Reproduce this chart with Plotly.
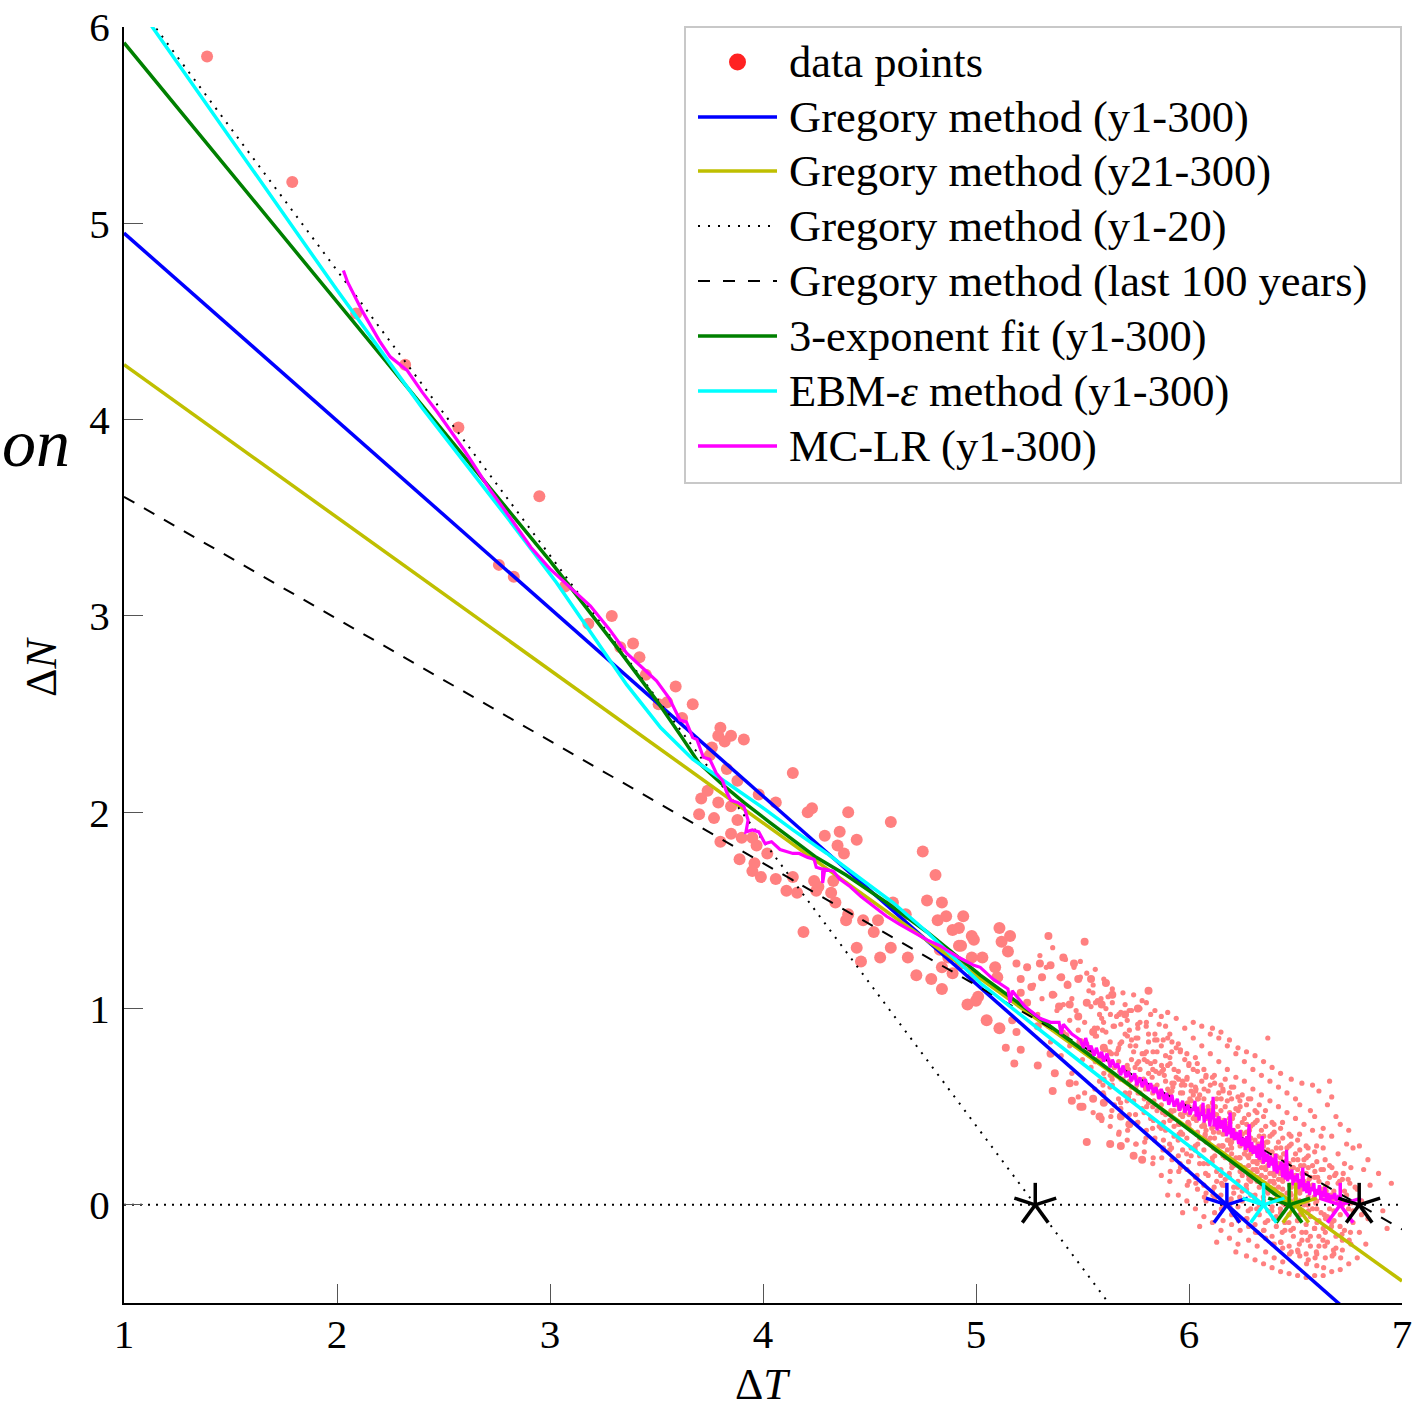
import math
import plotly.graph_objects as go

# ---------------------------------------------------------------- data ----
# Axis extents
T_RANGE = [1, 7]
N_RANGE = [-0.5, 6]
T_TICKS = [1, 2, 3, 4, 5, 6, 7]
N_TICKS = [0, 1, 2, 3, 4, 5, 6]

# Gregory regressions:  dN = F - lam * dT
greg_names = ["Gregory method (y1-300)", "Gregory method (y21-300)",
              "Gregory method (y1-20)", "Gregory method (last 100 years)"]
greg_F = [5.906, 5.058, 7.664, 4.229]
greg_lam = [0.956, 0.778, 1.452, 0.622]

# 3-exponent fit (y1-300)
fit3_T = [1.00, 1.50, 2.00, 2.50, 3.00, 3.30, 3.50, 3.62, 3.70, 3.80, 3.91, 4.03,
          4.14, 4.25, 4.39, 4.58, 4.77, 5.02, 5.50, 6.00, 6.47]
fit3_N = [5.92, 5.26, 4.60, 3.94, 3.28, 2.86, 2.57, 2.38, 2.25, 2.15, 2.05, 1.95,
          1.86, 1.77, 1.68, 1.54, 1.39, 1.17, 0.79, 0.38, 0.00]
ecs_fit3 = 6.47

# EBM-epsilon method (y1-300)
ebm_T = [1.12, 1.50, 2.00, 2.40, 2.80, 3.03, 3.20, 3.36, 3.52, 3.67, 3.83, 3.99,
         4.14, 4.30, 4.46, 4.61, 4.77, 5.02, 5.50, 6.00, 6.35]
ebm_N = [6.02, 5.43, 4.66, 4.06, 3.50, 3.17, 2.90, 2.65, 2.43, 2.27, 2.15, 2.03,
         1.91, 1.79, 1.66, 1.54, 1.39, 1.13, 0.72, 0.30, 0.00]
ecs_ebm = 6.35

# MC-LR (y1-300)
mclr_pts = [
    (2.03, 4.76), (2.05, 4.70), (2.12, 4.55), (2.20, 4.40), (2.25, 4.32), (2.33, 4.25),
    (2.40, 4.14), (2.47, 4.04), (2.60, 3.84), (2.72, 3.64), (2.82, 3.49), (2.91, 3.35),
    (3.00, 3.24), (3.06, 3.18), (3.13, 3.11), (3.19, 3.05), (3.28, 2.93), (3.36, 2.81),
    (3.43, 2.74), (3.50, 2.67), (3.56, 2.58), (3.61, 2.47), (3.64, 2.46), (3.67, 2.38),
    (3.69, 2.37), (3.72, 2.28), (3.75, 2.27), (3.78, 2.20), (3.81, 2.16), (3.83, 2.10),
    (3.85, 2.06), (3.88, 2.05), (3.91, 2.03), (3.93, 1.96), (3.92, 1.90), (3.95, 1.91),
    (3.98, 1.90), (4.01, 1.84), (4.04, 1.85), (4.06, 1.83), (4.08, 1.81), (4.11, 1.80),
    (4.14, 1.79), (4.17, 1.79), (4.21, 1.77), (4.24, 1.76), (4.25, 1.72), (4.28, 1.71),
    (4.28, 1.64), (4.29, 1.71), (4.33, 1.70), (4.36, 1.66), (4.41, 1.62), (4.46, 1.57),
    (4.52, 1.52), (4.58, 1.47), (4.64, 1.43), (4.69, 1.40), (4.77, 1.35), (4.83, 1.32),
    (4.86, 1.30), (4.92, 1.26), (4.99, 1.22), (5.02, 1.21), (5.08, 1.15), (5.12, 1.12),
    (5.15, 1.10), (5.16, 1.03), (5.17, 1.09), (5.23, 1.01), (5.30, 0.95), (5.35, 0.93),
    (5.39, 0.93), (5.40, 0.87), (5.41, 0.92), (5.45, 0.87), (5.49, 0.84), (5.505, 0.80),
    (5.515, 0.85), (5.53, 0.79), (5.54, 0.81), (5.555, 0.76), (5.565, 0.80), (5.58, 0.75),
    (5.59, 0.78), (5.60, 0.73), (5.615, 0.77), (5.63, 0.70), (5.64, 0.74), (5.655, 0.70),
    (5.665, 0.72), (5.68, 0.66), (5.69, 0.71), (5.705, 0.65), (5.715, 0.68), (5.73, 0.63),
    (5.745, 0.67), (5.755, 0.61), (5.77, 0.65), (5.78, 0.60), (5.795, 0.64), (5.81, 0.58),
    (5.82, 0.62), (5.835, 0.57), (5.845, 0.60), (5.86, 0.54), (5.87, 0.59), (5.885, 0.53),
    (5.895, 0.57), (5.905, 0.51), (5.92, 0.56), (5.93, 0.50), (5.945, 0.54), (5.955, 0.48),
    (5.97, 0.53), (5.98, 0.47), (5.995, 0.51), (6.005, 0.46), (6.015, 0.49), (6.020, 0.48),
    (6.028, 0.53), (6.034, 0.45), (6.041, 0.50), (6.047, 0.43), (6.052, 0.47), (6.060, 0.46),
    (6.066, 0.52), (6.071, 0.42), (6.080, 0.46), (6.086, 0.44), (6.091, 0.49), (6.098, 0.40),
    (6.104, 0.47), (6.110, 0.44), (6.113, 0.55), (6.118, 0.40), (6.126, 0.44), (6.132, 0.38),
    (6.139, 0.45), (6.146, 0.41), (6.150, 0.39), (6.158, 0.43), (6.163, 0.37), (6.170, 0.44),
    (6.176, 0.35), (6.183, 0.40), (6.188, 0.36), (6.193, 0.47), (6.199, 0.34), (6.207, 0.39),
    (6.214, 0.33), (6.221, 0.37), (6.226, 0.36), (6.233, 0.31), (6.240, 0.38), (6.246, 0.30),
    (6.252, 0.34), (6.258, 0.33), (6.265, 0.28), (6.271, 0.35), (6.276, 0.29), (6.282, 0.41),
    (6.288, 0.27), (6.295, 0.32), (6.301, 0.26), (6.308, 0.30), (6.313, 0.29), (6.320, 0.24),
    (6.326, 0.31), (6.331, 0.23), (6.338, 0.28), (6.344, 0.35), (6.349, 0.21), (6.356, 0.27),
    (6.362, 0.22), (6.368, 0.26), (6.375, 0.19), (6.381, 0.25), (6.388, 0.20), (6.394, 0.24),
    (6.400, 0.17), (6.407, 0.26), (6.413, 0.16), (6.420, 0.20), (6.426, 0.18), (6.433, 0.22),
    (6.439, 0.14), (6.445, 0.21), (6.452, 0.13), (6.458, 0.28), (6.463, 0.12), (6.470, 0.17),
    (6.476, 0.13), (6.483, 0.18), (6.489, 0.10), (6.496, 0.15), (6.502, 0.12), (6.509, 0.16),
    (6.515, 0.08), (6.521, 0.13), (6.528, 0.09), (6.534, 0.19), (6.540, 0.07), (6.547, 0.11),
    (6.553, 0.06), (6.560, 0.12), (6.566, 0.05), (6.573, 0.09), (6.580, 0.07), (6.586, 0.11),
    (6.592, 0.04), (6.599, 0.08), (6.605, 0.05), (6.612, 0.10), (6.618, 0.03), (6.625, 0.07),
    (6.631, 0.04), (6.638, 0.09), (6.645, 0.03), (6.652, 0.06), (6.660, 0.02), (6.668, 0.05),
    (6.676, 0.03), (6.684, 0.06), (6.692, 0.02), (6.700, 0.04), (6.710, 0.03),
]
mclr_T = [p[0] for p in mclr_pts]
mclr_N = [p[1] for p in mclr_pts]
ecs_mclr = 6.71

# Annual (dT, dN) points, early years (large markers)
early_T = [1.39, 1.79, 2.09, 2.32, 2.57, 2.95, 2.76, 2.83, 3.07, 3.18, 3.29, 3.39,
           3.33, 3.42, 3.45, 3.59, 3.67, 3.51, 3.55, 3.62, 3.80, 3.85, 3.79, 3.91,
           3.82, 3.76, 3.75, 3.83, 4.14, 3.88, 3.74, 3.71, 3.79, 3.85, 3.70, 3.77,
           3.88, 3.98, 4.06, 4.21, 4.23, 4.40, 4.60, 4.29, 4.36, 4.44, 4.35, 4.38,
           4.75, 3.85, 3.90, 3.80, 3.95, 3.97, 4.02, 3.89, 3.96, 3.95, 3.99, 4.06,
           4.14, 4.24, 4.26, 4.33, 4.81, 4.11, 4.16, 4.25, 4.32, 4.34, 4.40, 4.47,
           4.54, 4.61, 4.67, 4.77, 4.84, 4.19, 4.39, 4.52, 4.60, 4.55, 4.44, 4.46,
           4.68, 4.72, 4.79, 4.84, 4.82, 4.86, 4.94, 4.89, 4.92, 4.98, 4.83, 4.87,
           4.93, 4.99, 4.89, 5.01, 4.92, 5.11, 5.16, 4.99, 5.12, 5.15, 4.93, 4.84,
           4.98, 5.03, 5.09, 5.10, 4.96, 5.00, 5.05, 5.11]
early_N = [5.85, 5.21, 4.54, 4.28, 3.96, 3.61, 3.26, 3.20, 3.15, 2.96, 3.00, 2.86,
           2.84, 2.79, 2.70, 2.64, 2.55, 2.55, 2.56, 2.48, 2.43, 2.39, 2.39, 2.37,
           2.36, 2.33, 2.29, 2.22, 2.20, 2.16, 2.11, 2.07, 2.05, 2.03, 1.99, 1.97,
           1.96, 2.09, 2.05, 2.00, 2.02, 2.00, 1.95, 1.88, 1.90, 1.86, 1.83, 1.79,
           1.80, 1.89, 1.87, 1.85, 1.87, 1.83, 1.79, 1.76, 1.74, 1.70, 1.67, 1.66,
           1.67, 1.65, 1.62, 1.65, 1.68, 1.60, 1.59, 1.60, 1.59, 1.54, 1.48, 1.45,
           1.45, 1.54, 1.48, 1.55, 1.54, 1.39, 1.45, 1.39, 1.31, 1.26, 1.31, 1.24,
           1.26, 1.17, 1.15, 1.10, 1.45, 1.47, 1.47, 1.40, 1.32, 1.37, 1.30, 1.26,
           1.23, 1.17, 1.18, 1.06, 1.41, 1.41, 1.37, 1.35, 1.34, 1.29, 1.32, 1.21,
           1.26, 1.26, 1.21, 1.16, 1.02, 1.04, 0.94, 0.90]

# Annual points, middle years (medium markers)
mid_T = [5.19, 5.24, 5.30, 5.35, 5.41, 5.46, 5.34, 5.21, 5.26, 5.31, 5.40, 5.43,
         5.48, 5.54, 5.61, 5.21, 5.24, 5.36, 5.39, 5.44, 5.48, 5.52, 5.59, 5.64,
         5.70, 5.76, 5.81, 5.17, 5.19, 5.29, 5.14, 5.21, 5.18, 5.29, 5.35, 5.37,
         5.44, 5.36, 5.45, 5.49, 5.55, 5.60, 5.58, 5.49, 5.42, 5.50, 5.55, 5.60,
         5.58, 5.68, 5.72, 5.63, 5.52, 5.68, 5.74, 5.78, 5.51]
mid_N = [1.23, 1.21, 1.23, 1.22, 1.26, 1.23, 1.37, 1.15, 1.11, 1.16, 1.16, 1.12,
         1.15, 1.15, 1.13, 1.08, 1.03, 1.07, 1.01, 1.02, 0.96, 1.03, 1.02, 1.07,
         0.97, 1.00, 1.09, 0.94, 0.88, 0.91, 0.80, 0.79, 0.72, 0.71, 0.77, 0.67,
         0.62, 0.58, 0.53, 0.50, 0.88, 0.80, 0.74, 0.83, 0.86, 0.50, 0.54, 0.52,
         0.45, 0.45, 0.41, 0.31, 0.32, 0.30, 0.25, 0.23, 1.34]

# Annual points, late years (small markers) - outer spread
late_pts = [
    (5.27, 1.12), (5.29, 0.97), (5.30, 1.27), (5.31, 1.05), (5.33, 1.21), (5.34, 0.91),
    (5.36, 1.31), (5.37, 1.07), (5.35, 0.83), (5.38, 0.99), (5.39, 1.16), (5.41, 0.88),
    (5.42, 1.25), (5.40, 0.76), (5.41, 1.02), (5.43, 1.13), (5.44, 0.94), (5.45, 0.67),
    (5.46, 1.21), (5.44, 0.81), (5.45, 1.05), (5.47, 0.62), (5.48, 0.89), (5.49, 1.16),
    (5.47, 0.99), (5.50, 0.74), (5.49, 1.24), (5.48, 0.55), (5.51, 0.57), (5.52, 0.82),
    (5.53, 1.09), (5.51, 0.93), (5.54, 0.70), (5.52, 1.18), (5.53, 0.78), (5.54, 1.01),
    (5.55, 0.47), (5.56, 0.73), (5.57, 0.90), (5.55, 1.12), (5.58, 0.63), (5.56, 0.86),
    (5.57, 1.04), (5.58, 0.97), (5.56, 1.20), (5.59, 0.43), (5.60, 0.67), (5.61, 0.79),
    (5.59, 0.95), (5.62, 1.06), (5.60, 0.56), (5.61, 1.00), (5.62, 0.74), (5.60, 1.15),
    (5.61, 0.88), (5.63, 0.40), (5.64, 0.61), (5.65, 0.70), (5.63, 0.83), (5.66, 0.96),
    (5.64, 1.10), (5.65, 0.51), (5.66, 0.77), (5.63, 0.66), (5.65, 0.91), (5.64, 1.03),
    (5.67, 0.36), (5.68, 0.49), (5.69, 0.64), (5.67, 0.73), (5.70, 0.87), (5.68, 0.98),
    (5.69, 1.08), (5.70, 0.57), (5.67, 0.80), (5.69, 0.69), (5.68, 0.92), (5.70, 1.02),
    (5.71, 0.33), (5.72, 0.46), (5.73, 0.60), (5.71, 0.71), (5.74, 0.78), (5.72, 0.89),
    (5.73, 0.99), (5.74, 0.53), (5.71, 0.94), (5.73, 0.74), (5.72, 0.63), (5.74, 1.07),
    (5.73, 0.84), (5.75, 0.31), (5.76, 0.42), (5.77, 0.57), (5.75, 0.65), (5.78, 0.77),
    (5.76, 0.85), (5.77, 0.93), (5.78, 1.04), (5.75, 0.59), (5.77, 0.69), (5.76, 0.90),
    (5.78, 0.49), (5.75, 0.81), (5.77, 1.00), (5.79, 0.27), (5.80, 0.38), (5.81, 0.52),
    (5.79, 0.61), (5.82, 0.72), (5.80, 0.78), (5.81, 0.87), (5.82, 0.97), (5.79, 0.54),
    (5.81, 0.67), (5.80, 0.93), (5.82, 0.44), (5.79, 0.74), (5.81, 0.83), (5.80, 1.03),
    (5.83, 0.21), (5.84, 0.34), (5.85, 0.48), (5.83, 0.57), (5.86, 0.67), (5.84, 0.73),
    (5.85, 0.84), (5.86, 0.92), (5.83, 0.50), (5.85, 0.61), (5.84, 0.87), (5.86, 0.40),
    (5.83, 0.69), (5.85, 0.78), (5.84, 0.99), (5.86, 0.55), (5.87, 0.15), (5.88, 0.29),
    (5.89, 0.38), (5.87, 0.51), (5.90, 0.59), (5.88, 0.69), (5.89, 0.76), (5.90, 0.85),
    (5.87, 0.96), (5.89, 0.46), (5.88, 0.56), (5.90, 0.71), (5.87, 0.81), (5.89, 0.63),
    (5.88, 0.33), (5.90, 0.98), (5.89, 0.91), (5.90, 0.05), (5.91, 0.12), (5.92, 0.23),
    (5.93, 0.35), (5.91, 0.43), (5.94, 0.52), (5.92, 0.62), (5.93, 0.69), (5.94, 0.80),
    (5.91, 0.87), (5.93, 0.48), (5.92, 0.58), (5.94, 0.65), (5.91, 0.75), (5.93, 0.40),
    (5.92, 0.83), (5.94, 0.95), (5.91, 0.28), (5.93, 0.62), (5.95, 0.05), (5.96, 0.19),
    (5.97, 0.28), (5.95, 0.41), (5.98, 0.47), (5.96, 0.57), (5.97, 0.63), (5.98, 0.74),
    (5.95, 0.82), (5.97, 0.45), (5.96, 0.51), (5.98, 0.61), (5.95, 0.68), (5.97, 0.36),
    (5.96, 0.79), (5.98, 0.90), (5.95, 0.25), (5.97, 0.57), (5.96, 0.46), (5.97, -0.04),
    (5.99, 0.02), (6.00, 0.12), (6.01, 0.25), (5.99, 0.34), (6.02, 0.44), (6.00, 0.50),
    (6.01, 0.58), (6.02, 0.69), (5.99, 0.77), (6.01, 0.38), (6.00, 0.46), (6.02, 0.56),
    (5.99, 0.64), (6.01, 0.29), (6.00, 0.72), (6.02, 0.85), (5.99, 0.18), (6.01, 0.53),
    (6.00, 0.41), (6.02, 0.93), (6.01, 0.61), (6.03, -0.02), (6.04, 0.08), (6.05, 0.21),
    (6.03, 0.30), (6.06, 0.40), (6.04, 0.46), (6.05, 0.56), (6.06, 0.63), (6.03, 0.75),
    (6.05, 0.34), (6.04, 0.44), (6.06, 0.50), (6.03, 0.60), (6.05, 0.25), (6.04, 0.68),
    (6.06, 0.81), (6.03, 0.14), (6.05, 0.48), (6.04, 0.37), (6.06, 0.91), (6.05, -0.11),
    (6.04, 0.54), (6.07, -0.06), (6.08, 0.06), (6.09, 0.15), (6.07, 0.28), (6.10, 0.34),
    (6.08, 0.44), (6.09, 0.50), (6.10, 0.61), (6.07, 0.69), (6.09, 0.32), (6.08, 0.38),
    (6.10, 0.48), (6.07, 0.54), (6.09, 0.21), (6.08, 0.66), (6.10, 0.77), (6.07, 0.10),
    (6.09, 0.46), (6.08, 0.33), (6.10, 0.87), (6.09, 0.58), (6.08, 0.02), (6.07, 0.41),
    (6.11, -0.09), (6.12, 0.03), (6.13, 0.12), (6.11, 0.24), (6.14, 0.30), (6.12, 0.40),
    (6.13, 0.46), (6.14, 0.57), (6.11, 0.65), (6.13, 0.28), (6.12, 0.34), (6.14, 0.44),
    (6.11, 0.52), (6.13, 0.17), (6.12, 0.62), (6.14, 0.73), (6.11, 0.07), (6.13, 0.42),
    (6.12, 0.29), (6.14, 0.85), (6.13, 0.54), (6.12, -0.04), (6.11, 0.90), (6.13, -0.19),
    (6.14, 0.37), (6.15, -0.13), (6.16, -0.01), (6.17, 0.10), (6.15, 0.18), (6.18, 0.28),
    (6.16, 0.36), (6.17, 0.42), (6.18, 0.53), (6.15, 0.61), (6.17, 0.24), (6.16, 0.30),
    (6.18, 0.40), (6.15, 0.48), (6.17, 0.13), (6.16, 0.58), (6.18, 0.69), (6.15, 0.05),
    (6.17, 0.38), (6.16, 0.25), (6.18, 0.81), (6.17, 0.50), (6.16, -0.08), (6.15, 0.88),
    (6.17, 0.64), (6.18, 0.33), (6.19, -0.17), (6.20, -0.05), (6.21, 0.06), (6.19, 0.14),
    (6.22, 0.24), (6.20, 0.32), (6.21, 0.38), (6.22, 0.49), (6.19, 0.57), (6.21, 0.20),
    (6.20, 0.26), (6.22, 0.36), (6.19, 0.44), (6.21, 0.09), (6.20, 0.54), (6.22, 0.65),
    (6.19, 0.01), (6.21, 0.34), (6.20, 0.21), (6.22, 0.77), (6.21, 0.46), (6.20, -0.10),
    (6.19, 0.84), (6.21, 0.60), (6.22, -0.24), (6.20, 0.29), (6.23, -0.20), (6.24, -0.07),
    (6.25, 0.02), (6.23, 0.12), (6.26, 0.19), (6.24, 0.30), (6.25, 0.36), (6.26, 0.44),
    (6.23, 0.55), (6.25, 0.15), (6.24, 0.24), (6.26, 0.31), (6.23, 0.40), (6.25, 0.07),
    (6.24, 0.50), (6.26, 0.63), (6.23, -0.01), (6.25, 0.33), (6.24, 0.17), (6.26, 0.73),
    (6.25, 0.42), (6.24, -0.13), (6.23, 0.80), (6.25, 0.56), (6.26, 0.26), (6.27, -0.26),
    (6.28, -0.11), (6.29, -0.02), (6.27, 0.08), (6.30, 0.18), (6.28, 0.24), (6.29, 0.34),
    (6.30, 0.41), (6.27, 0.51), (6.29, 0.12), (6.28, 0.20), (6.30, 0.28), (6.27, 0.37),
    (6.29, 0.05), (6.28, 0.46), (6.30, 0.59), (6.27, -0.07), (6.29, 0.26), (6.28, 0.15),
    (6.30, 0.69), (6.29, 0.40), (6.28, -0.18), (6.27, 0.78), (6.29, 0.54), (6.30, 0.22),
    (6.31, -0.28), (6.32, -0.14), (6.33, -0.05), (6.31, 0.05), (6.34, 0.15), (6.32, 0.21),
    (6.33, 0.31), (6.34, 0.38), (6.31, 0.48), (6.33, 0.09), (6.32, 0.17), (6.34, 0.27),
    (6.31, 0.33), (6.33, 0.00), (6.32, 0.43), (6.34, 0.56), (6.31, -0.10), (6.33, 0.23),
    (6.32, 0.12), (6.34, 0.66), (6.33, 0.35), (6.32, -0.21), (6.31, 0.76), (6.33, 0.51),
    (6.34, 0.19), (6.35, -0.30), (6.36, -0.17), (6.37, -0.08), (6.35, 0.02), (6.38, 0.12),
    (6.36, 0.18), (6.37, 0.28), (6.38, 0.35), (6.35, 0.45), (6.37, 0.06), (6.36, 0.14),
    (6.38, 0.24), (6.35, 0.30), (6.37, -0.03), (6.36, 0.40), (6.38, 0.53), (6.35, -0.13),
    (6.37, 0.20), (6.36, 0.09), (6.38, 0.63), (6.37, 0.32), (6.36, -0.24), (6.37, 0.85),
    (6.35, 0.73), (6.38, 0.16), (6.39, -0.32), (6.40, -0.20), (6.41, -0.11), (6.39, -0.01),
    (6.42, 0.09), (6.40, 0.15), (6.41, 0.25), (6.42, 0.32), (6.39, 0.42), (6.41, 0.03),
    (6.40, 0.11), (6.42, 0.21), (6.39, 0.27), (6.41, -0.06), (6.40, 0.37), (6.42, 0.50),
    (6.39, -0.16), (6.41, 0.17), (6.40, 0.06), (6.42, 0.60), (6.41, 0.29), (6.40, -0.27),
    (6.39, 0.70), (6.42, 0.13), (6.43, -0.34), (6.44, -0.22), (6.45, -0.13), (6.43, -0.04),
    (6.46, 0.06), (6.44, 0.12), (6.45, 0.22), (6.46, 0.29), (6.43, 0.39), (6.45, 0.00),
    (6.44, 0.08), (6.46, 0.18), (6.43, 0.24), (6.45, -0.09), (6.44, 0.34), (6.46, 0.47),
    (6.43, -0.19), (6.45, 0.14), (6.44, 0.03), (6.46, 0.57), (6.45, 0.26), (6.44, -0.29),
    (6.43, 0.67), (6.47, -0.35), (6.48, -0.24), (6.49, -0.16), (6.47, -0.05), (6.50, 0.03),
    (6.48, 0.09), (6.49, 0.19), (6.50, 0.26), (6.47, 0.36), (6.49, -0.01), (6.48, 0.05),
    (6.50, 0.15), (6.47, 0.21), (6.49, -0.12), (6.48, 0.31), (6.50, 0.44), (6.47, -0.21),
    (6.49, 0.11), (6.48, 0.00), (6.50, 0.54), (6.49, 0.23), (6.48, 0.64), (6.51, -0.36),
    (6.52, -0.26), (6.53, -0.18), (6.51, -0.08), (6.54, 0.00), (6.52, 0.06), (6.53, 0.16),
    (6.54, 0.23), (6.51, 0.33), (6.53, -0.04), (6.52, 0.02), (6.54, 0.12), (6.51, 0.18),
    (6.53, -0.14), (6.52, 0.28), (6.54, 0.41), (6.51, -0.23), (6.53, 0.08), (6.52, 0.51),
    (6.54, 0.20), (6.53, 0.62), (6.55, -0.37), (6.56, -0.28), (6.57, -0.21), (6.55, -0.10),
    (6.58, -0.02), (6.56, 0.04), (6.57, 0.14), (6.58, 0.20), (6.55, 0.30), (6.57, -0.06),
    (6.56, 0.00), (6.58, 0.10), (6.55, 0.16), (6.57, -0.16), (6.56, 0.25), (6.58, 0.38),
    (6.55, -0.25), (6.57, 0.48), (6.56, 0.19), (6.58, 0.61), (6.59, -0.36), (6.60, -0.31),
    (6.61, -0.21), (6.59, -0.12), (6.62, -0.04), (6.60, 0.02), (6.61, 0.12), (6.62, 0.18),
    (6.59, 0.27), (6.61, -0.08), (6.60, -0.02), (6.62, 0.08), (6.59, 0.14), (6.61, -0.16),
    (6.60, 0.22), (6.62, 0.35), (6.59, 0.45), (6.61, 0.58), (6.60, -0.25), (6.63, -0.36),
    (6.64, -0.27), (6.65, -0.19), (6.63, -0.12), (6.66, -0.02), (6.64, 0.05), (6.65, 0.11),
    (6.66, 0.20), (6.63, 0.29), (6.65, -0.06), (6.64, 0.09), (6.66, 0.14), (6.63, 0.39),
    (6.65, 0.51), (6.64, -0.14), (6.66, 0.63), (6.67, -0.34), (6.68, -0.25), (6.69, -0.16),
    (6.67, -0.09), (6.70, 0.01), (6.68, 0.07), (6.69, 0.16), (6.70, 0.26), (6.67, 0.35),
    (6.69, 0.45), (6.68, -0.03), (6.70, 0.11), (6.67, 0.55), (6.69, -0.22), (6.71, -0.33),
    (6.72, -0.23), (6.73, -0.13), (6.71, -0.05), (6.74, 0.05), (6.72, 0.13), (6.73, 0.21),
    (6.74, 0.31), (6.71, 0.41), (6.73, 0.07), (6.72, -0.18), (6.75, -0.30), (6.76, -0.20),
    (6.77, -0.09), (6.75, 0.01), (6.78, 0.09), (6.76, 0.19), (6.77, 0.29), (6.75, 0.38),
    (6.77, -0.03), (6.79, -0.27), (6.80, -0.14), (6.81, -0.05), (6.79, 0.08), (6.82, 0.18),
    (6.80, 0.30), (6.81, 0.02), (6.83, -0.20), (6.84, -0.07), (6.85, 0.10), (6.84, 0.23),
    (6.89, 0.16), (6.91, -0.03), (6.95, 0.11), (6.93, -0.12),
]

# Annual points, late years (small markers) - dense core
core_pts = [
    (5.553, 0.54), (5.558, 0.59), (5.562, 0.73), (5.551, 0.77), (5.566, 0.86), (5.556, 0.90),
    (5.561, 1.03), (5.549, 1.08), (5.592, 0.44), (5.597, 0.57), (5.601, 0.64), (5.589, 0.74),
    (5.604, 0.79), (5.594, 0.89), (5.599, 0.93), (5.587, 1.05), (5.596, 0.61), (5.633, 0.45),
    (5.638, 0.48), (5.629, 0.60), (5.641, 0.66), (5.636, 0.77), (5.627, 0.78), (5.644, 0.91),
    (5.631, 0.97), (5.639, 0.64), (5.672, 0.37), (5.678, 0.49), (5.669, 0.54), (5.681, 0.64),
    (5.675, 0.68), (5.667, 0.79), (5.684, 0.83), (5.671, 0.97), (5.679, 0.52), (5.676, 0.82),
    (5.712, 0.38), (5.718, 0.41), (5.709, 0.53), (5.721, 0.57), (5.715, 0.69), (5.707, 0.70),
    (5.724, 0.81), (5.711, 0.86), (5.719, 0.99), (5.716, 0.55), (5.752, 0.31), (5.758, 0.42),
    (5.749, 0.46), (5.761, 0.57), (5.755, 0.61), (5.747, 0.70), (5.764, 0.73), (5.751, 0.85),
    (5.759, 0.92), (5.756, 0.72), (5.792, 0.32), (5.798, 0.34), (5.789, 0.47), (5.801, 0.50),
    (5.795, 0.60), (5.787, 0.64), (5.804, 0.73), (5.791, 0.77), (5.799, 0.91), (5.796, 0.59),
    (5.832, 0.24), (5.838, 0.33), (5.829, 0.39), (5.841, 0.51), (5.835, 0.53), (5.827, 0.65),
    (5.844, 0.68), (5.831, 0.78), (5.839, 0.84), (5.836, 0.60), (5.833, 0.43), (5.872, 0.24),
    (5.878, 0.28), (5.869, 0.39), (5.881, 0.42), (5.875, 0.55), (5.867, 0.58), (5.884, 0.66),
    (5.871, 0.71), (5.879, 0.84), (5.876, 0.47), (5.873, 0.68), (5.912, 0.17), (5.918, 0.29),
    (5.909, 0.31), (5.921, 0.44), (5.915, 0.48), (5.907, 0.57), (5.924, 0.60), (5.911, 0.72),
    (5.919, 0.78), (5.916, 0.47), (5.913, 0.56), (5.952, 0.17), (5.958, 0.21), (5.949, 0.33),
    (5.961, 0.37), (5.955, 0.49), (5.947, 0.51), (5.964, 0.61), (5.951, 0.64), (5.959, 0.78),
    (5.956, 0.41), (5.953, 0.36), (5.992, 0.10), (5.998, 0.22), (5.989, 0.26), (6.001, 0.39),
    (5.995, 0.42), (5.987, 0.51), (6.004, 0.54), (5.991, 0.65), (5.999, 0.71), (5.996, 0.42),
    (5.993, 0.52), (6.032, 0.11), (6.038, 0.15), (6.029, 0.28), (6.041, 0.31), (6.035, 0.43),
    (6.027, 0.45), (6.044, 0.54), (6.031, 0.58), (6.039, 0.72), (6.036, 0.36), (6.033, 0.59),
    (6.072, 0.04), (6.078, 0.16), (6.069, 0.21), (6.081, 0.32), (6.075, 0.35), (6.067, 0.47),
    (6.084, 0.48), (6.071, 0.59), (6.079, 0.65), (6.076, 0.36), (6.073, 0.40), (6.112, 0.05),
    (6.118, 0.09), (6.109, 0.22), (6.121, 0.25), (6.115, 0.37), (6.107, 0.39), (6.124, 0.50),
    (6.111, 0.52), (6.119, 0.66), (6.116, 0.29), (6.113, 0.47), (6.152, -0.02), (6.158, 0.10),
    (6.149, 0.15), (6.161, 0.26), (6.155, 0.30), (6.147, 0.40), (6.164, 0.43), (6.151, 0.54),
    (6.159, 0.59), (6.156, 0.30), (6.153, 0.11), (6.192, -0.01), (6.198, 0.03), (6.189, 0.16),
    (6.201, 0.19), (6.195, 0.31), (6.187, 0.33), (6.204, 0.44), (6.191, 0.47), (6.199, 0.60),
    (6.196, 0.23), (6.193, 0.42), (6.232, -0.08), (6.238, 0.04), (6.229, 0.09), (6.241, 0.20),
    (6.235, 0.24), (6.227, 0.35), (6.244, 0.37), (6.231, 0.48), (6.239, 0.53), (6.236, 0.24),
    (6.233, 0.35), (6.272, -0.07), (6.278, -0.03), (6.269, 0.10), (6.281, 0.13), (6.275, 0.25),
    (6.267, 0.28), (6.284, 0.38), (6.271, 0.41), (6.279, 0.54), (6.276, 0.17), (6.273, 0.29),
    (6.312, -0.14), (6.318, -0.02), (6.309, 0.03), (6.321, 0.14), (6.315, 0.18), (6.307, 0.29),
    (6.324, 0.31), (6.311, 0.42), (6.319, 0.47), (6.316, 0.18), (6.313, 0.22), (6.352, -0.13),
    (6.358, -0.09), (6.349, 0.04), (6.361, 0.07), (6.355, 0.19), (6.347, 0.22), (6.364, 0.32),
    (6.351, 0.35), (6.359, 0.48), (6.356, 0.11), (6.353, 0.23), (6.392, -0.20), (6.398, -0.07),
    (6.389, -0.03), (6.401, 0.08), (6.395, 0.12), (6.387, 0.23), (6.404, 0.25), (6.391, 0.36),
    (6.399, 0.41), (6.396, 0.12), (6.393, 0.16), (6.432, -0.19), (6.438, -0.14), (6.429, -0.02),
    (6.441, 0.01), (6.435, 0.13), (6.427, 0.16), (6.444, 0.26), (6.431, 0.29), (6.439, 0.42),
    (6.436, 0.05), (6.433, 0.17), (6.472, -0.25), (6.478, -0.13), (6.469, -0.09), (6.481, 0.02),
    (6.475, 0.06), (6.467, 0.17), (6.484, 0.19), (6.471, 0.30), (6.479, 0.35), (6.476, 0.06),
    (6.473, 0.10), (6.512, -0.24), (6.518, -0.20), (6.509, -0.08), (6.521, -0.05), (6.515, 0.07),
    (6.507, 0.10), (6.524, 0.20), (6.511, 0.23), (6.519, 0.36), (6.516, -0.01), (6.513, 0.11),
    (6.552, -0.30), (6.558, -0.18), (6.549, -0.14), (6.561, -0.03), (6.555, 0.00), (6.547, 0.11),
    (6.564, 0.13), (6.551, 0.24), (6.559, 0.29), (6.556, -0.04), (6.592, -0.27), (6.598, -0.24),
    (6.589, -0.12), (6.601, -0.09), (6.595, 0.01), (6.587, 0.04), (6.604, 0.14), (6.591, 0.17),
    (6.599, 0.30), (6.632, -0.32), (6.638, -0.21), (6.629, -0.18), (6.641, -0.07), (6.635, -0.05),
    (6.627, 0.05), (6.644, 0.07), (6.631, 0.18), (6.639, 0.23), (6.672, -0.26), (6.678, -0.23),
    (6.669, -0.11), (6.681, -0.08), (6.675, 0.03), (6.667, 0.05), (6.684, 0.15), (6.671, 0.19),
    (6.712, -0.27), (6.718, -0.15), (6.709, -0.11), (6.721, 0.00), (6.715, 0.02), (6.707, 0.12),
    (6.724, 0.16), (6.752, -0.18), (6.758, -0.14), (6.749, -0.02), (6.761, 0.01), (6.755, 0.11),
    (6.747, 0.13),
]
late_T = [p[0] for p in late_pts + core_pts]
late_N = [p[1] for p in late_pts + core_pts]

legend_labels = ["data points", "Gregory method (y1-300)", "Gregory method (y21-300)",
                 "Gregory method (y1-20)", "Gregory method (last 100 years)",
                 "3-exponent fit (y1-300)", "EBM-<i>ε</i> method (y1-300)",
                 "MC-LR (y1-300)"]

# --------------------------------------------------------------- style ----
FONT = "Liberation Serif"
W, H = 1419, 1411
ML, MR, MT, MB = 124, 17, 27, 108
PW, PH = W - ML - MR, H - MT - MB
PX_T = PW / (T_RANGE[1] - T_RANGE[0])
PX_N = PH / (N_RANGE[1] - N_RANGE[0])

DOT = "#FF8080"
GREG_COLORS = ["#0000FF", "#BFBF00", "black", "black"]
GREG_DASH = ["solid", "solid", "2px,7px", "12px,11px"]
GREG_WIDTH = [3.5, 3.5, 2, 2]
FIT3_C, EBM_C, MCLR_C = "#008000", "#00FFFF", "#FF00FF"


def px_x(px):
    return (px - ML) / PW


def px_y(py):
    return (MT + PH - py) / PH


def star(t0, n0, color):
    """Five-armed asterisk drawn as short segments around (t0, n0)."""
    xs, ys = [], []
    for ang in (90, 18, 162, -54, 234):
        a = math.radians(ang)
        xs += [t0, t0 + 22 * math.cos(a) / PX_T, None]
        ys += [n0, n0 + 22 * math.sin(a) / PX_N, None]
    return go.Scatter(x=xs, y=ys, mode="lines", showlegend=False, hoverinfo="skip",
                      line=dict(color=color, width=3.5))


fig = go.Figure()

# data points
fig.add_trace(go.Scatter(x=late_T, y=late_N, mode="markers", name="data points",
                         showlegend=False, marker=dict(color=DOT, size=5.2, line=dict(width=0))))
fig.add_trace(go.Scatter(x=mid_T, y=mid_N, mode="markers", showlegend=False,
                         marker=dict(color=DOT, size=8, line=dict(width=0))))
fig.add_trace(go.Scatter(x=early_T, y=early_N, mode="markers", showlegend=False,
                         marker=dict(color=DOT, size=12, line=dict(width=0))))

# zero line
fig.add_trace(go.Scatter(x=T_RANGE, y=[0, 0], mode="lines", showlegend=False,
                         line=dict(color="black", width=2, dash="2px,6px")))

# Gregory regression lines
for name, F, lam, col, dash, w in zip(greg_names, greg_F, greg_lam, GREG_COLORS,
                                      GREG_DASH, GREG_WIDTH):
    fig.add_trace(go.Scatter(x=T_RANGE, y=[F - lam * T_RANGE[0], F - lam * T_RANGE[1]],
                             mode="lines", name=name, showlegend=False,
                             line=dict(color=col, width=w, dash=dash)))

fig.add_trace(go.Scatter(x=fit3_T, y=fit3_N, mode="lines", name="3-exponent fit (y1-300)",
                         showlegend=False, line=dict(color=FIT3_C, width=3.5)))
fig.add_trace(go.Scatter(x=ebm_T, y=ebm_N, mode="lines", name="EBM-ε method (y1-300)",
                         showlegend=False, line=dict(color=EBM_C, width=3.5)))
fig.add_trace(go.Scatter(x=mclr_T, y=mclr_N, mode="lines", name="MC-LR (y1-300)",
                         showlegend=False, line=dict(color=MCLR_C, width=3.2)))

# equilibrium climate sensitivity stars on the dN = 0 line
for F, lam, col in zip(greg_F[:2], greg_lam[:2], GREG_COLORS[:2]):
    fig.add_trace(star(F / lam, 0, col))
fig.add_trace(star(ecs_fit3, 0, FIT3_C))
fig.add_trace(star(ecs_ebm, 0, EBM_C))
fig.add_trace(star(ecs_mclr, 0, MCLR_C))
for F, lam, col in zip(greg_F[2:], greg_lam[2:], GREG_COLORS[2:]):
    fig.add_trace(star(F / lam, 0, col))

# ------------------------------------------------------------- legend ----
shapes = [dict(type="rect", xref="paper", yref="paper",
               x0=px_x(685), x1=px_x(1401), y0=px_y(483), y1=px_y(27),
               line=dict(color="#C8C8C8", width=2), fillcolor="white", layer="above")]
row_y = [62, 117, 171, 226, 281, 336, 391, 446]
shapes.append(dict(type="circle", xref="paper", yref="paper",
                   x0=px_x(729), x1=px_x(746), y0=px_y(row_y[0] + 8.5),
                   y1=px_y(row_y[0] - 8.5), fillcolor="#F22", line=dict(width=0),
                   layer="above"))
sample_styles = list(zip(GREG_COLORS, ["solid", "solid", "2px,8px", "12px,13px"], GREG_WIDTH))
sample_styles += [(FIT3_C, "solid", 3.5), (EBM_C, "solid", 3.5), (MCLR_C, "solid", 3.5)]
for (col, dash, w), ry in zip(sample_styles, row_y[1:]):
    shapes.append(dict(type="line", xref="paper", yref="paper",
                       x0=px_x(698), x1=px_x(777), y0=px_y(ry), y1=px_y(ry),
                       line=dict(color=col, width=w, dash=dash), layer="above"))

annotations = []
for txt, ry in zip(legend_labels, row_y):
    annotations.append(dict(text=txt, xref="paper", yref="paper", x=px_x(787), y=px_y(ry),
                            xanchor="left", yanchor="middle", showarrow=False,
                            font=dict(family=FONT, size=44.5, color="black")))

# axis titles
annotations.append(dict(text="Δ<i>T</i>", xref="paper", yref="paper", x=px_x(763),
                        y=px_y(1411), xanchor="center", yanchor="bottom", showarrow=False,
                        font=dict(family=FONT, size=44, color="black")))
annotations.append(dict(text="Δ<i>N</i>", xref="paper", yref="paper", x=px_x(42),
                        y=px_y(667), xanchor="center", yanchor="middle", showarrow=False,
                        textangle=-90, font=dict(family=FONT, size=44, color="black")))
# fragment of neighbouring page text
annotations.append(dict(text="<i>on</i>", xref="paper", yref="paper", x=px_x(0),
                        y=px_y(443), xanchor="left", yanchor="middle", showarrow=False,
                        font=dict(family=FONT, size=68, color="black")))

axis_common = dict(showgrid=False, zeroline=False, showline=True, linecolor="black",
                   linewidth=2, ticks="inside", ticklen=19, tickwidth=1,
                   tickcolor="#555555", mirror=False, automargin=False,
                   tickfont=dict(family=FONT, size=41, color="black"))

fig.update_layout(
    width=W, height=H,
    margin=dict(l=ML, r=MR, t=MT, b=MB, pad=0, autoexpand=False),
    paper_bgcolor="white", plot_bgcolor="white",
    xaxis=dict(range=T_RANGE, tickvals=T_TICKS, ticklabelstandoff=-6, **axis_common),
    yaxis=dict(range=N_RANGE, tickvals=N_TICKS, ticklabelstandoff=4, **axis_common),
    shapes=shapes, annotations=annotations, showlegend=False,
)

fig.write_html("out.html")
